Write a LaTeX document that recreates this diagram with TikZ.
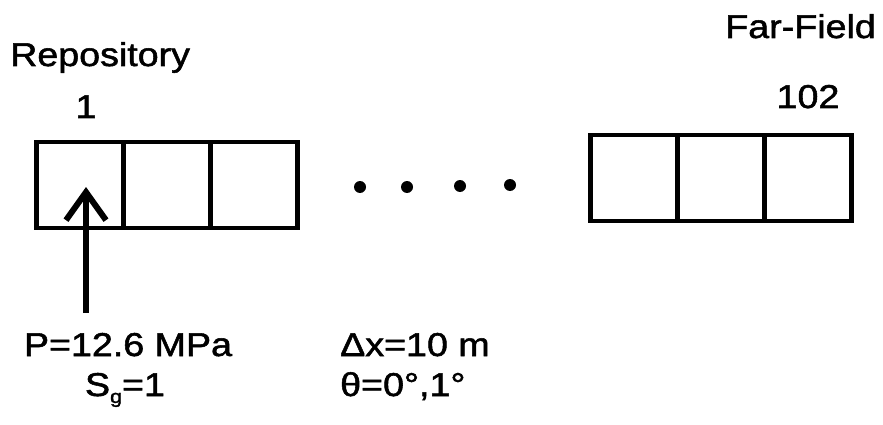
\documentclass[tikz,border=0pt]{standalone}
\usepackage{fontspec}
\setmainfont{Liberation Sans}[FakeStretch=1.14,FakeBold=1.6]
\usetikzlibrary{arrows.meta,positioning}
\tikzset{
	cell/.style={draw,line width=4.5pt,minimum width=87pt,minimum height=86pt,inner sep=0pt,outer sep=0pt},
	lbl/.style={font=\fontsize{33}{38}\selectfont,inner sep=0pt,anchor=base},
	dot/.style={circle,fill,inner sep=0pt,minimum size=12pt}
}
\newcommand{\lowsub}[1]{{\fontsize{19}{19}\selectfont\raisebox{-7pt}{#1}}}
\begin{document}
\begin{tikzpicture}[x=1pt,y=-1pt]
	\useasboundingbox (0,0) rectangle (883,425);
	\node[cell] (c1) at (80,185) {};
	\node[cell,right=0pt of c1] (c2) {};
	\node[cell,right=0pt of c2] (c3) {};
	\node[cell] (f1) at (634,178) {};
	\node[cell,right=0pt of f1] (f2) {};
	\node[cell,right=0pt of f2] (f3) {};
	\foreach \x/\y [count=\i] in {360/187,407/187,460/186,510/185}
		\node[dot] (d\i) at (\x,\y) {};
	\node[lbl,anchor=base west] (repo) at (10,66) {Repository};
	\node[lbl] (n1) at (86,118) {1};
	\node[lbl,anchor=base east] (far) at (876,38) {Far-Field};
	\node[lbl] (n102) at (808,108) {102};
	\node[lbl] (pres) at (128,356) {P=12.6 MPa};
	\node[lbl] (sat) at (125,396) {S\lowsub{g}=1};
	\node[lbl,anchor=base west] (dx) at (340,356) {Δx=10 m};
	\node[lbl,anchor=base west] (ang) at (340,396) {θ=0°,1°};
	\coordinate (src) at (86,313);
	\draw[line width=6pt,-{Straight Barb[length=28pt,width=40pt,line width=6pt]}] (src) -- ([yshift=-2pt]src |- c1.center);
\end{tikzpicture}
\end{document}
